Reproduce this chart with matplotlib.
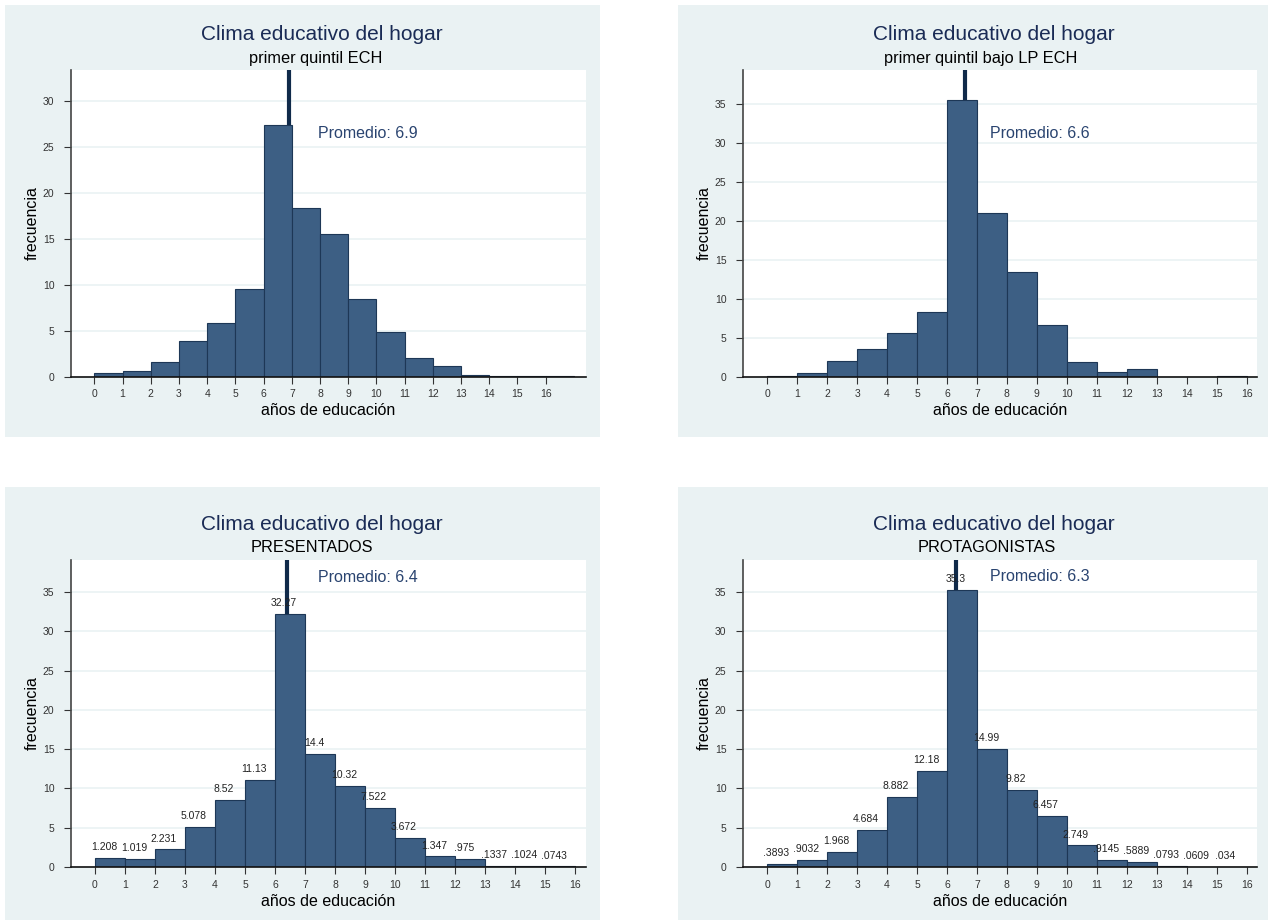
import numpy as np
import matplotlib.pyplot as plt
from matplotlib.patches import Rectangle

plt.rcParams['font.family'] = ['Liberation Sans', 'DejaVu Sans']

# frecuencias (%) por años de educación, cada barra de ancho 1 desde 0
freq_q1_ech = [0.4, 0.7, 1.66, 3.87, 5.85, 9.6, 27.4, 18.36, 15.54, 8.49, 4.95, 2.06, 1.16,
               0.25, 0.07, 0.07, 0.15]
freq_q1_lp = [0.17, 0.47, 2.05, 3.59, 5.64, 8.33, 35.56, 21.07, 13.42, 6.71, 1.97, 0.64, 1.07,
              0.0, 0.0, 0.17]
freq_presentados = [1.208, 1.019, 2.231, 5.078, 8.52, 11.13, 32.27, 14.4, 10.32, 7.522, 3.672,
                    1.347, .975, .1337, .1024, .0743]
freq_protagonistas = [.3893, .9032, 1.968, 4.684, 8.882, 12.18, 35.3, 14.99, 9.82, 6.457, 2.749,
                      .9145, .5889, .0793, .0609, .034]

subtitles = ['primer quintil ECH', 'primer quintil bajo LP ECH', 'PRESENTADOS', 'PROTAGONISTAS']
means = [6.9, 6.6, 6.4, 6.3]
x_ticks = list(range(0, 17))
y_ticks_top_left = [0, 5, 10, 15, 20, 25, 30]
y_ticks_other = [0, 5, 10, 15, 20, 25, 30, 35]

BG = '#eaf2f3'
BAR = '#3d5f84'
EDGE = '#1d3756'
NAVY = '#1a2b55'
W, H = 1269, 924


def stata_fmt(v):
    """formato tipo Stata: sin el cero inicial"""
    s = '{:.4g}'.format(v)
    if s.startswith('0.'):
        s = s[1:]
    return s


def px_axes(fig, x0, x1, y0, y1):
    """crea un eje a partir de pixeles (x0, x1 horizontal, y0 arriba, y1 abajo)"""
    return fig.add_axes([x0 / W, 1 - y1 / H, (x1 - x0) / W, (y1 - y0) / H])


fig = plt.figure(figsize=(W / 100, H / 100), dpi=100)
fig.patch.set_facecolor('white')

# fondos de cada panel
for (x0, x1, y0, y1) in [(5, 600, 5, 437), (678, 1268, 5, 437), (5, 600, 487, 920), (678, 1268, 487, 920)]:
    fig.patches.append(Rectangle((x0 / W, 1 - y1 / H), (x1 - x0) / W, (y1 - y0) / H,
                                 transform=fig.transFigure, facecolor=BG, edgecolor='none', zorder=-5))

panels = [
    dict(data=freq_q1_ech, box=(71, 586, 70, 377), xlim=(-0.83, 17.43), ylim=33.4,
         yticks=y_ticks_top_left, txt=(7.93, 26.5), labels=False, title_x=322, sub_x=316, ty=34),
    dict(data=freq_q1_lp, box=(743, 1257, 70, 377), xlim=(-0.81, 16.35), ylim=39.4,
         yticks=y_ticks_other, txt=(7.43, 31.3), labels=False, title_x=994, sub_x=981, ty=34),
    dict(data=freq_presentados, box=(71, 586, 560, 867), xlim=(-0.8, 16.37), ylim=39.1,
         yticks=y_ticks_other, txt=(7.43, 36.9), labels=True, title_x=322, sub_x=312, ty=524),
    dict(data=freq_protagonistas, box=(743, 1257, 560, 867), xlim=(-0.81, 16.35), ylim=39.1,
         yticks=y_ticks_other, txt=(7.43, 37.0), labels=True, title_x=994, sub_x=987, ty=524),
]

for p, sub, mean in zip(panels, subtitles, means):
    ax = px_axes(fig, *p['box'])
    ax.set_facecolor('white')
    vals = p['data']
    left = np.arange(len(vals))
    ax.grid(axis='y', color=BG, linewidth=1.2, zorder=0)
    ax.set_axisbelow(True)
    ax.axvline(mean, color='#102a4a', linewidth=3, zorder=1)
    ax.bar(left, vals, width=1, align='edge', color=BAR, edgecolor=EDGE, linewidth=0.8, zorder=2)
    if p['labels']:
        for xi, v in zip(left, vals):
            ax.text(xi + 0.3, v + 0.75, stata_fmt(v), ha='center', va='bottom', fontsize=7.5,
                    color='#222222', zorder=3)
    ax.text(p['txt'][0], p['txt'][1], 'Promedio: {}'.format(mean), ha='left', va='center',
            fontsize=11.5, color='#2a4470', zorder=3)

    ax.set_xlim(*p['xlim'])
    ax.set_ylim(0, p['ylim'])
    ax.set_xticks(x_ticks)
    ax.set_yticks(p['yticks'])
    ax.tick_params(axis='both', labelsize=7.5, length=5, width=0.8, color='#333333',
                   labelcolor='#333333')
    ax.tick_params(axis='x', pad=4)
    ax.tick_params(axis='y', pad=7)
    for s in ('top', 'right'):
        ax.spines[s].set_visible(False)
    ax.spines['left'].set_color('#444444')
    ax.spines['left'].set_linewidth(1.2)
    ax.spines['bottom'].set_color('#111111')
    ax.spines['bottom'].set_linewidth(1.2)

    x0, x1, y0, y1 = p['box']
    ax.set_xlabel('años de educación', fontsize=11.5, va='center')
    ax.xaxis.set_label_coords(0.5, -34 / (y1 - y0))
    ax.set_ylabel('frecuencia', fontsize=11.5, va='center')
    ax.yaxis.set_label_coords(-39 / (x1 - x0), 0.5)

    fig.text(p['title_x'] / W, 1 - p['ty'] / H, 'Clima educativo del hogar', ha='center',
             va='center', fontsize=15, color=NAVY)
    fig.text(p['sub_x'] / W, 1 - (p['ty'] + 24) / H, sub, ha='center', va='center',
             fontsize=11.8, color='black')

fig.savefig('out.png', dpi=100)
